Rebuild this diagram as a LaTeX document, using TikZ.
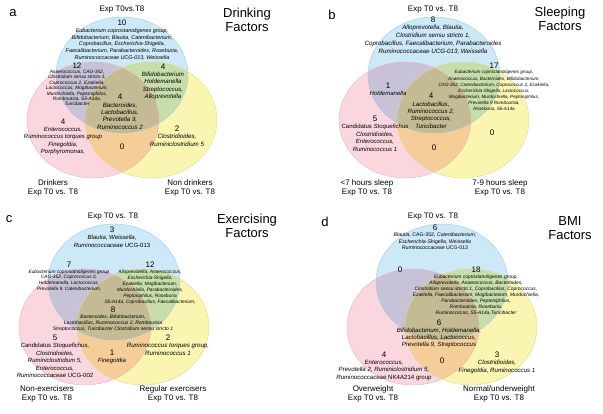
\documentclass[tikz,border=0pt]{standalone}
\usepackage{fontspec}
\setmainfont{Liberation Sans}
\usetikzlibrary{positioning}

\definecolor{vblue}{RGB}{205,232,247}
\definecolor{vred}{RGB}{250,214,222}
\definecolor{vyellow}{RGB}{250,245,176}
\definecolor{vblueline}{RGB}{160,200,228}
\definecolor{vredline}{RGB}{238,176,188}
\definecolor{vyellowline}{RGB}{226,218,128}

\begin{document}
\begin{tikzpicture}[x=1pt, y=-1pt,
  blueset/.style={fill=vblue, blend mode=multiply},
  redset/.style={fill=vred, blend mode=multiply},
  yellowset/.style={fill=vyellow, blend mode=multiply},
  num/.style={font=\fontsize{8}{9}\selectfont, inner sep=0pt},
  taxa/.style 2 args={font=\fontsize{#1}{#2}\selectfont\itshape, align=center, inner sep=0pt},
  setname/.style={font=\fontsize{8}{9.5}\selectfont, align=center, inner sep=0pt},
  factor/.style={font=\fontsize{13}{14.5}\selectfont, align=center, inner sep=0pt},
  letter/.style={font=\fontsize{13}{14}\selectfont, inner sep=0pt}]
  \useasboundingbox (0,0) rectangle (603,413);

  % the three sets of every panel
  \foreach \dx/\dy in {0/0, 312/0, -8/207, 320/207}{
    \fill[blueset] (122+\dx,75+\dy) ellipse [x radius=66, y radius=58];
    \fill[redset] (93+\dx,120+\dy) ellipse [x radius=66, y radius=58];
    \fill[yellowset] (151+\dx,120+\dy) ellipse [x radius=66, y radius=58];
    \draw[vblueline, line width=.4pt] (122+\dx,75+\dy) ellipse [x radius=66, y radius=58];
    \draw[vredline, line width=.4pt] (93+\dx,120+\dy) ellipse [x radius=66, y radius=58];
    \draw[vyellowline, line width=.4pt] (151+\dx,120+\dy) ellipse [x radius=66, y radius=58];
  }

  % a: drinking
  \node[letter] (aLet) at (13,13) {a};
  \node[setname] (aTop) at (122,10) {Exp T0vs.T8};
  \node[factor] (aTitle) at (247,20) {Drinking\\Factors};
  \node[num] (aBn) at (122,23) {10};
  \node[taxa={5.4}{6.9}, below=2pt of aBn] (aB) {Eubacterium coprostanoligenes group,\\
    Bifidobacterium, Blautia, Catenibacterium,\\Coprobacillus, Escherichia-Shigella,\\
    Faecalibacterium, Parabacteroides, Roseburia,\\Ruminococcaceae UCG-013, Weissella};
  \node[num] (aBRn) at (77,66) {12};
  \node[taxa={4.8}{5.4}, below=1pt of aBRn] (aBR) {Anaerococcus, CAG-352,\\
    Clostridium sensu stricto 1,\\Coprococcus 2, Ezakiella,\\Lactococcus, Mogibacterium,\\
    Murdochiella, Peptoniphilus,\\Romboutsia, S5-A14a,\\Turicibacter};
  \node[num] (aBYn) at (163,67) {4};
  \node[taxa={6.1}{7.4}, below=2pt of aBYn] (aBY) {Bifidobacterium\\Holdemanella\\
    Streptococcus,\\Alloprevotella};
  \node[num] (aAlln) at (120,97) {4};
  \node[taxa={6.2}{7.4}, below=2.5pt of aAlln] (aAll) {Bacteroides,\\Lactobacillus,\\
    Prevotella 9,\\Ruminococcus 2};
  \node[num] (aRn) at (63,122) {4};
  \node[taxa={6}{7.4}, below=2pt of aRn] (aR) {Enterococcus,\\Ruminococcus torques group\\
    Finegoldia,\\Porphyromonas,};
  \node[num] (aRYn) at (122,147) {0};
  \node[num] (aYn) at (177,129) {2};
  \node[taxa={6.2}{7.6}, below=2pt of aYn] (aY) {Clostridioides,\\Ruminiclostridium 5};
  \node[setname] (aRlab) at (53,188) {Drinkers\\Exp T0 vs. T8};
  \node[setname] (aYlab) at (190,188) {Non drinkers\\Exp T0 vs. T8};

  % b: sleeping
  \node[letter] (bLet) at (332,15) {b};
  \node[setname] (bTop) at (433,10) {Exp T0 vs. T8};
  \node[factor] (bTitle) at (560,19) {Sleeping\\Factors};
  \node[num] (bBn) at (433,20) {8};
  \node[taxa={6.2}{7.8}, below=2pt of bBn] (bB) {Alloprevotella, Blautia,\\
    Clostridium sensu stricto 1,\\Coprobacillus, Faecalibacterium, Parabacteroides\\
    Ruminococcaceae UCG-013, Weissella};
  \node[num] (bBYn) at (494,66) {17};
  \node[taxa={4.6}{6.1}, below=1.5pt of bBYn] (bBY) {Eubacterium coprostanoligenes group,\\
    Anaerococcus, Bacteroides, Bifidobacterium,\\CAG-352, Catenibacterium, Coprococcus 2, Ezakiella,\\
    Escherichia-Shigella, Lactococcus,\\Mogibacterium, Murdochiella, Peptoniphilus,\\
    Prevotella 9 Romboutsia,\\Roseburia, S5-A14a};
  \node[num] (bBRn) at (388,86) {1};
  \node[taxa={6}{7.4}, below=2pt of bBRn] (bBR) {Holdemanella};
  \node[num] (bAlln) at (431,96) {4};
  \node[taxa={6.1}{7.4}, below=2.5pt of bAlln] (bAll) {Lactobacillus,\\Ruminococcus 2,\\
    Streptococcus,\\Turicibacter};
  \node[num] (bRn) at (375,119) {5};
  \node[taxa={6}{7.6}, below=2pt of bRn] (bR) {\textup{Candidatus} Stoquefichus\\
    Clostridioides,\\Enterococcus,\\Ruminococcus 1};
  \node[num] (bYn) at (492,133) {0};
  \node[num] (bRYn) at (434,148) {0};
  \node[setname] (bRlab) at (367,188) {<7 hours sleep\\Exp T0 vs. T8};
  \node[setname] (bYlab) at (500,188) {7-9 hours sleep\\Exp T0 vs. T8};

  % c: exercising
  \node[letter] (cLet) at (9,219) {c};
  \node[setname] (cTop) at (113,217) {Exp T0 vs. T8};
  \node[factor] (cTitle) at (247,226) {Exercising\\Factors};
  \node[num] (cBn) at (112,230) {3};
  \node[taxa={6}{8}, below=2pt of cBn] (cB) {Blautia, Weissella,\\Ruminococcaceae \textup{UCG-013}};
  \node[num] (cBRn) at (69,265) {7};
  \node[taxa={4.8}{5.8}, below=1.5pt of cBRn] (cBR) {Eubacterium coprostanoligenes group\\
    CAG-352, Coprococcus 2,\\Holdemanella, Lactococcus,\\Prevotella 9, Catenibacterium,};
  \node[num] (cBYn) at (150,265) {12};
  \node[taxa={4.8}{6}, below=1.5pt of cBYn] (cBY) {Alloprevotella, Anaerococcus,\\
    Escherichia-Shigella,\\Ezakiella, Mogibacterium,\\Murdochiella, Parabacteroides,\\
    Peptoniphilus, Roseburia\\S5-A14a, Coprobacillus, Faecalibacterium,};
  \node[num] (cAlln) at (113,310) {8};
  \node[taxa={5}{6}, below=1.5pt of cAlln] (cAll) {Bacteroides, Bifidobacterium,\\
    Lactobacillus, Ruminococcus 2, Romboutsia\\
    Streptococcus, Turicibacter Clostridium sensu stricto 1};
  \node[num] (cRn) at (55,338) {5};
  \node[taxa={6}{7.6}, below=2pt of cRn] (cR) {\textup{Candidatus} Stoquefichus,\\
    Clostridioides,\\Ruminiclostridium 5,\\Enterococcus,\\Ruminococcaceae \textup{UCG-002}};
  \node[num] (cRYn) at (112,353) {1};
  \node[taxa={6}{7.4}, below=2pt of cRYn] (cRY) {Finegoldia};
  \node[num] (cYn) at (168,338) {2};
  \node[taxa={6.2}{7.5}, below=2pt of cYn] (cY) {Ruminococcus torques group,\\Ruminococcus 1};
  \node[setname] (cRlab) at (47,394) {Non-exercisers\\Exp T0 vs. T8};
  \node[setname] (cYlab) at (173,394) {Regular exercisers\\Exp T0 vs. T8};

  % d: BMI
  \node[letter] (dLet) at (325,222) {d};
  \node[setname] (dTop) at (433,217) {Exp T0 vs. T8};
  \node[factor] (dTitle) at (570,228) {BMI\\Factors};
  \node[num] (dBn) at (435,228) {6};
  \node[taxa={5.2}{6.5}, below=1.5pt of dBn] (dB) {Blautia, \textup{CAG-352}, Catenibacterium,\\
    Escherichia-Shigella, Weissella\\Ruminococcaceae \textup{UCG-013}};
  \node[num] (dBRn) at (400,270) {0};
  \node[num] (dBYn) at (476,270) {18};
  \node[taxa={4.9}{6}, below=1.5pt of dBYn] (dBY) {Eubacterium coprostanoligenes group,\\
    Alloprevotella, Anaerococcus, Bacteroides,\\Clostridium sensu stricto 1, Coprobacillus, Coprococcus,\\
    Ezakiella, Faecalibacterium, Mogibacterium, Murdochiella,\\Parabacteroides, Peptoniphilus,\\
    Romboutsia, Roseburia,\\Ruminococcus, S5-A14a,Turicibacter};
  \node[num] (dAlln) at (439,323) {6};
  \node[taxa={6.1}{7}, below=2pt of dAlln] (dAll) {Bifidobacterium, Holdemanella,\\
    Lactobacillus, Lactococcus,\\Prevotella 9, Streptococcus};
  \node[num] (dRn) at (384,355) {4};
  \node[taxa={6.1}{7.5}, below=2pt of dRn] (dR) {Enterococcus,\\Prevotella 2, Ruminiclostridium 5,\\
    Ruminococcaceae \textup{NK4A214 group}};
  \node[num] (dRYn) at (442,361) {0};
  \node[num] (dYn) at (497,355) {3};
  \node[taxa={6.1}{7.5}, below=2pt of dYn] (dY) {Clostridioides,\\Finegoldia, Ruminococcus 1};
  \node[setname] (dRlab) at (373,394) {Overweight\\Exp T0 vs. T8};
  \node[setname] (dYlab) at (499,394) {Normal/underweight\\Exp T0 vs. T8};
\end{tikzpicture}
\end{document}
